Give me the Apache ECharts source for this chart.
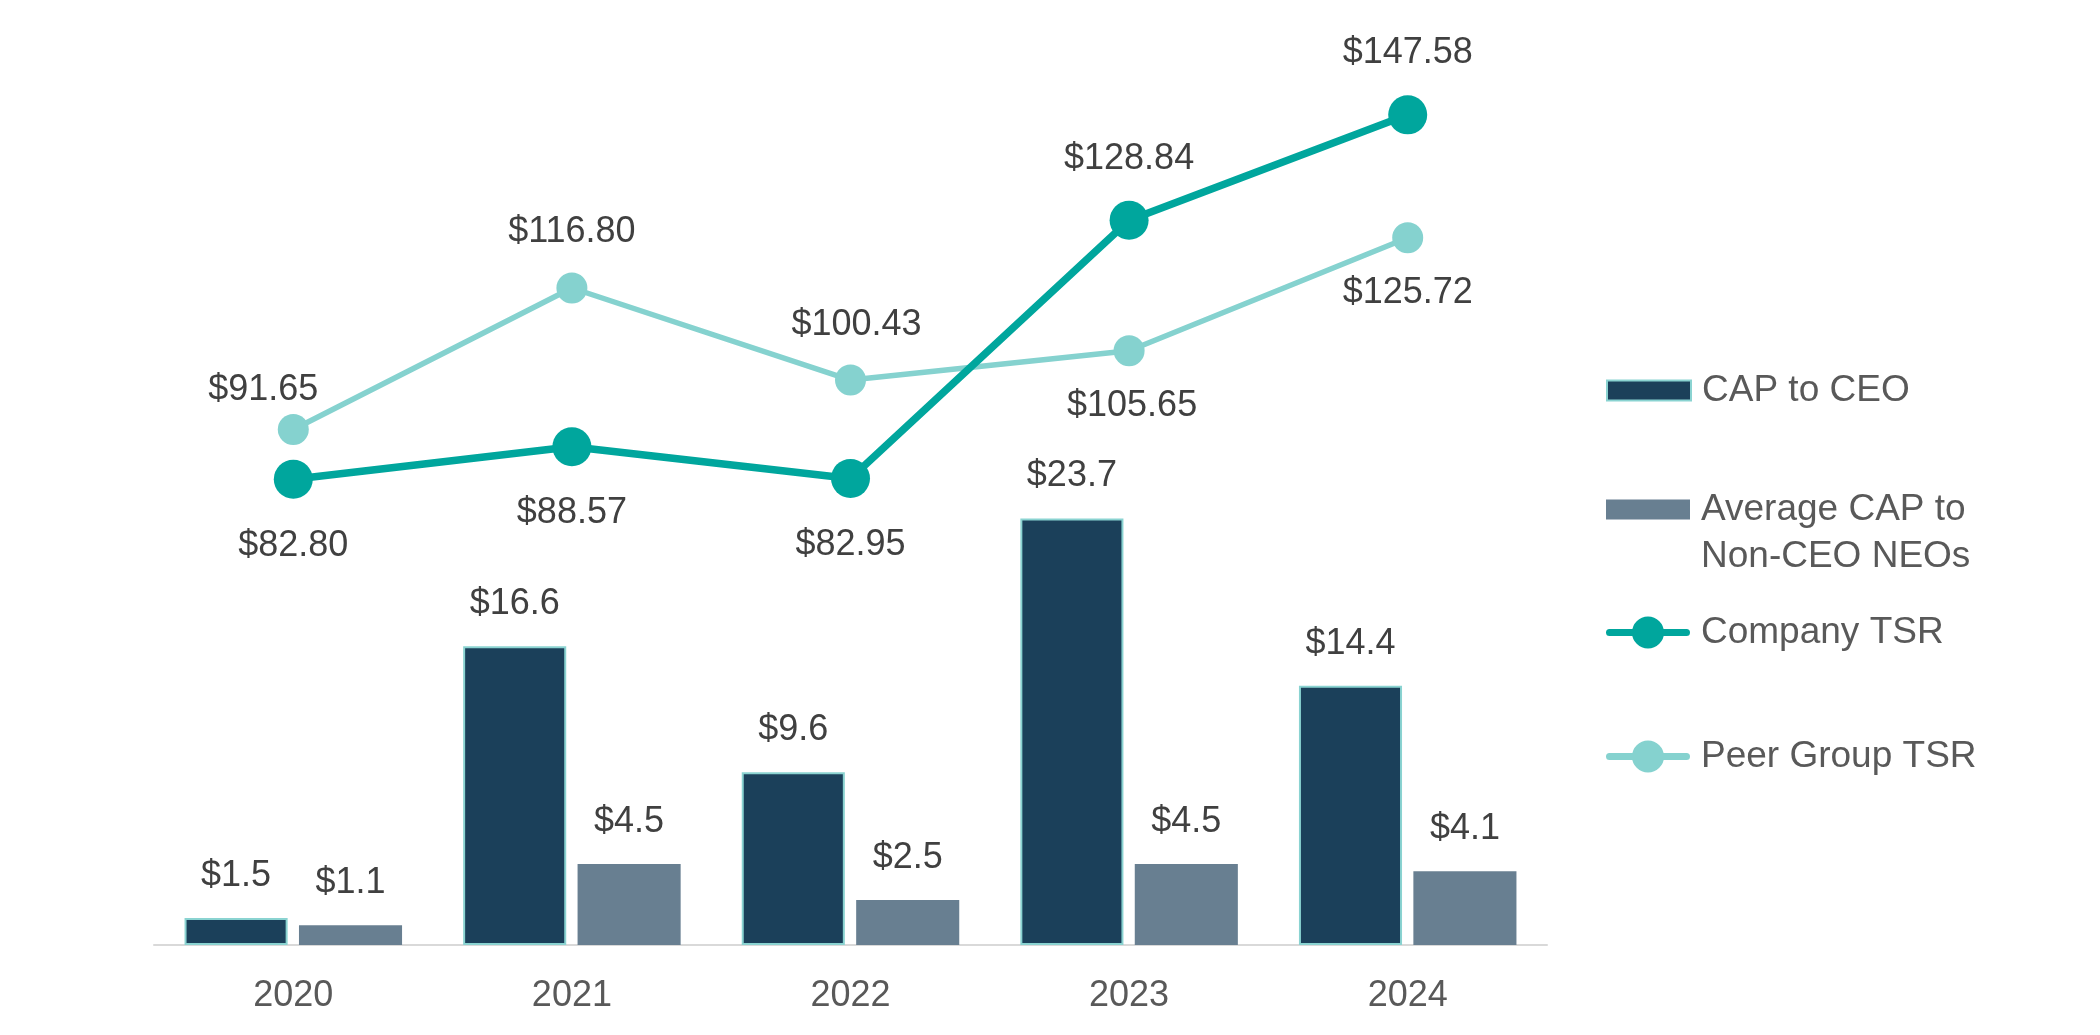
<!DOCTYPE html>
<html>
<head>
<meta charset="utf-8">
<script src="https://cdn.jsdelivr.net/npm/echarts@6/dist/echarts.min.js"></script>
<style>
html,body{margin:0;padding:0;background:#fff;}
#main{width:2100px;height:1035px;}
</style>
</head>
<body>
<div id="main"></div>
<script>
const years = ['2020', '2021', '2022', '2023', '2024'];
const capCeo = [1.5, 16.6, 9.6, 23.7, 14.4];
const capNeo = [1.1, 4.5, 2.5, 4.5, 4.1];
const companyTsr = [82.80, 88.57, 82.95, 128.84, 147.58];
const peerTsr = [91.65, 116.80, 100.43, 105.65, 125.72];

// label placement (styles, kept apart from the values)
const companyLabelPos = ['bottom', 'bottom', 'bottom', 'top', 'top'];
const companyLabelDist = [29, 29, 29, 24, 24];
const peerLabelPos = ['top', 'top', 'top', 'bottom', 'bottom'];
const peerLabelOffset = [[-30, 16], [0, 0], [6, 0], [3, 0], [0, 0]];

const FONT = 'Liberation Sans, Arial, sans-serif';
const C_CEO = '#1B405A';
const C_NEO = '#687F91';
const C_CO = '#00A69D';
const C_PEER = '#85D2CF';
const LABEL = '#404040';
const TEXT = '#595959';

const LINE_ICON = 'path://M3.5,12.5 L80.5,12.5 A3.5,3.5 0 0,1 80.5,19.5 L3.5,19.5 A3.5,3.5 0 0,1 3.5,12.5 Z M26,16 A16,16 0 1,1 58,16 A16,16 0 1,1 26,16 Z';

const chart = echarts.init(document.getElementById('main'));

function barLabel() {
  return { show: true, position: 'top', distance: 24, color: LABEL, fontFamily: FONT, fontSize: 36,
    formatter: p => '$' + p.value.toFixed(1) };
}

function mkLegend(name, top, extra) {
  return Object.assign({
    data: [name], left: 1601, top: top, orient: 'vertical',
    itemWidth: 84, itemHeight: 20, itemGap: 0, icon: 'rect',
    textStyle: { color: TEXT, fontFamily: FONT, fontSize: 37, padding: [0, 0, 0, 6] },
    selectedMode: false
  }, extra || {});
}

chart.setOption({
  animation: false,
  backgroundColor: '#fff',
  grid: { left: 154, right: 553, top: 45, bottom: 90 },
  legend: [
    mkLegend('CAP to CEO', 367),
    mkLegend('Average CAP to Non-CEO NEOs', 434, {
      formatter: () => ' \nAverage CAP to\nNon-CEO NEOs',
      textStyle: { color: TEXT, fontFamily: FONT, fontSize: 37, lineHeight: 47, padding: [0, 0, 0, 6] }
    }),
    mkLegend('Company TSR', 609, { itemHeight: 32, icon: LINE_ICON }),
    mkLegend('Peer Group TSR', 733, { itemHeight: 32, icon: LINE_ICON })
  ],
  xAxis: {
    type: 'category', data: years,
    axisLine: { lineStyle: { color: '#D9D9D9', width: 2 } },
    axisTick: { show: false },
    axisLabel: { color: TEXT, fontFamily: FONT, fontSize: 36, margin: 33 }
  },
  yAxis: [
    { type: 'value', min: 0, max: 50, show: false, splitLine: { show: false } },
    { type: 'value', min: 0, max: 160, show: false, splitLine: { show: false } }
  ],
  series: [
    { name: 'CAP to CEO', type: 'bar', yAxisIndex: 0, data: capCeo, barWidth: '37%', barGap: '11%',
      itemStyle: { color: C_CEO, borderColor: '#8AD3D1', borderWidth: 2 }, label: barLabel() },
    { name: 'Average CAP to Non-CEO NEOs', type: 'bar', yAxisIndex: 0, data: capNeo, barWidth: '37%', barGap: '11%',
      itemStyle: { color: C_NEO }, label: barLabel() },
    { name: 'Company TSR', type: 'line', yAxisIndex: 1,
      data: companyTsr.map((v, i) => ({ value: v, label: { position: companyLabelPos[i], distance: companyLabelDist[i] } })),
      symbol: 'circle', symbolSize: 39, z: 5,
      lineStyle: { color: C_CO, width: 7.5 }, itemStyle: { color: C_CO },
      label: { show: true, color: LABEL, fontFamily: FONT, fontSize: 36, formatter: p => '$' + p.value.toFixed(2) } },
    { name: 'Peer Group TSR', type: 'line', yAxisIndex: 1,
      data: peerTsr.map((v, i) => ({ value: v, label: { position: peerLabelPos[i], distance: 22, offset: peerLabelOffset[i] } })),
      symbol: 'circle', symbolSize: 31, z: 4,
      lineStyle: { color: C_PEER, width: 5.5 }, itemStyle: { color: C_PEER },
      label: { show: true, color: LABEL, fontFamily: FONT, fontSize: 36, formatter: p => '$' + p.value.toFixed(2) } }
  ]
});
</script>
</body>
</html>
